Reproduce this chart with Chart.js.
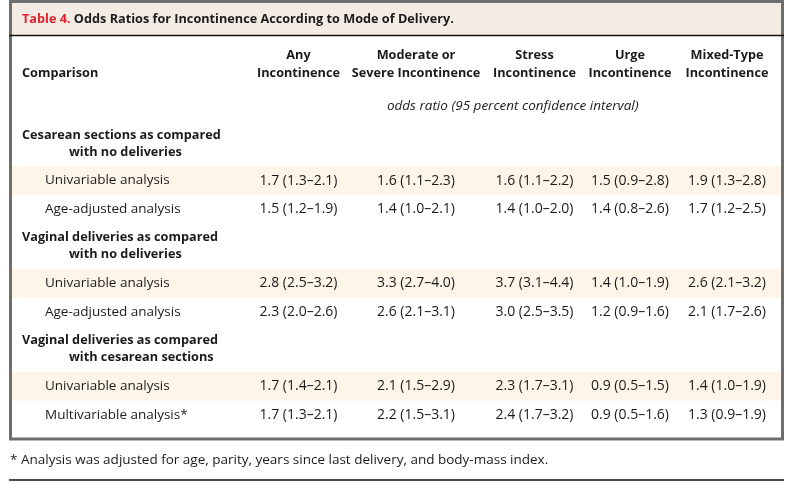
<!DOCTYPE html>
<html>
<head>
<meta charset="utf-8">
<script src="https://cdn.jsdelivr.net/npm/chart.js@4"></script>
<style>
  html, body { margin: 0; padding: 0; background: #fff; }
  #wrap { width: 791px; height: 484px; }
</style>
</head>
<body>
<div id="wrap"><canvas id="tbl" width="791" height="484"></canvas></div>
<script>
// --- table data ---
const tableNo   = 'Table 4.';
const tableName = 'Odds Ratios for Incontinence According to Mode of Delivery.';
const firstColHead = 'Comparison';
const columnHeads = [
    ['Any', 'Incontinence'],
    ['Moderate or', 'Severe Incontinence'],
    ['Stress', 'Incontinence'],
    ['Urge', 'Incontinence'],
    ['Mixed-Type', 'Incontinence']
];
const unitLabel = 'odds ratio (95 percent confidence interval)';
const groupTitles = [
    ['Cesarean sections as compared', 'with no deliveries'],
    ['Vaginal deliveries as compared', 'with no deliveries'],
    ['Vaginal deliveries as compared', 'with cesarean sections']
];
const analysisLabels = [
    'Univariable analysis', 'Age-adjusted analysis',
    'Univariable analysis', 'Age-adjusted analysis',
    'Univariable analysis', 'Multivariable analysis*'
];
// odds ratio, lower and upper limit per column
const anyOR   = [1.7, 1.5, 2.8, 2.3, 1.7, 1.7];
const anyLo   = [1.3, 1.2, 2.5, 2.0, 1.4, 1.3];
const anyHi   = [2.1, 1.9, 3.2, 2.6, 2.1, 2.1];
const modOR   = [1.6, 1.4, 3.3, 2.6, 2.1, 2.2];
const modLo   = [1.1, 1.0, 2.7, 2.1, 1.5, 1.5];
const modHi   = [2.3, 2.1, 4.0, 3.1, 2.9, 3.1];
const strOR   = [1.6, 1.4, 3.7, 3.0, 2.3, 2.4];
const strLo   = [1.1, 1.0, 3.1, 2.5, 1.7, 1.7];
const strHi   = [2.2, 2.0, 4.4, 3.5, 3.1, 3.2];
const urgOR   = [1.5, 1.4, 1.4, 1.2, 0.9, 0.9];
const urgLo   = [0.9, 0.8, 1.0, 0.9, 0.5, 0.5];
const urgHi   = [2.8, 2.6, 1.9, 1.6, 1.5, 1.6];
const mixOR   = [1.9, 1.7, 2.6, 2.1, 1.4, 1.3];
const mixLo   = [1.3, 1.2, 2.1, 1.7, 1.0, 0.9];
const mixHi   = [2.8, 2.5, 3.2, 2.6, 1.9, 1.9];
const footnote = '* Analysis was adjusted for age, parity, years since last delivery, and body-mass index.';

// --- layout (px) ---
const W = 791, H = 484;
const colCenters = [298.5, 416, 534.5, 630, 727];
const labelX = 22, analysisX = 45, indentX = 69;
const boxLeft = 12, boxRight = 781;
const FONT = '"Open Sans", "Noto Sans", sans-serif';
const INK = '#1b1b1b';

const columns = [
    [anyOR, anyLo, anyHi], [modOR, modLo, modHi], [strOR, strLo, strHi],
    [urgOR, urgLo, urgHi], [mixOR, mixLo, mixHi]
];

// rows: group headings run on two lines, analysis rows are taller
const rows = [];
let yPos = 135;
groupTitles.forEach((lines, g) => {
    lines.forEach((t, i) => {
        if (i > 0) yPos += 17;
        rows.push({ kind: 'group', text: t, indent: i > 0, y: yPos });
    });
    for (let k = 0; k < 2; k++) {
        yPos += 28.6;
        rows.push({ kind: 'data', idx: g * 2 + k, y: yPos, shaded: k === 0 });
    }
    yPos += 28.6;
});

const bands = rows.filter(r => r.shaded).map(r => ({ x: [boxLeft, boxRight], y: r.y }));

const fmt = (o, l, h) => `${o.toFixed(1)} (${l.toFixed(1)}\u2013${h.toFixed(1)})`;

const tablePlugin = {
    id: 'tableText',
    beforeDatasetsDraw(chart) {
        const { ctx, scales: { x, y } } = chart;
        ctx.save();
        // title band
        ctx.fillStyle = '#f3ece4';
        ctx.fillRect(x.getPixelForValue(boxLeft), y.getPixelForValue(3),
            x.getPixelForValue(boxRight) - x.getPixelForValue(boxLeft),
            y.getPixelForValue(35) - y.getPixelForValue(3));
        ctx.restore();
    },
    afterDatasetsDraw(chart) {
        const { ctx, scales: { x, y } } = chart;
        const px = v => x.getPixelForValue(v);
        const py = v => y.getPixelForValue(v);
        ctx.save();
        ctx.textBaseline = 'middle';

        // title
        ctx.font = `bold 12.7px ${FONT}`;
        ctx.textAlign = 'left';
        ctx.fillStyle = '#e2232e';
        ctx.fillText(tableNo, px(labelX), py(19.5));
        const w = ctx.measureText(tableNo + ' ').width;
        ctx.fillStyle = INK;
        ctx.fillText(tableName, px(labelX) + w, py(19.5));

        // column heads
        ctx.font = `bold 12.7px ${FONT}`;
        ctx.fillText(firstColHead, px(labelX), py(73));
        ctx.textAlign = 'center';
        columnHeads.forEach((lines, c) => {
            lines.forEach((t, i) => ctx.fillText(t, px(colCenters[c]), py(55 + i * 18)));
        });
        ctx.font = `italic 13.5px ${FONT}`;
        ctx.fillText(unitLabel, px((colCenters[0] + colCenters[4]) / 2), py(106));

        // body
        rows.forEach(r => {
            if (r.kind === 'group') {
                ctx.font = `bold 12.7px ${FONT}`;
                ctx.textAlign = 'left';
                ctx.fillText(r.text, px(r.indent ? indentX : labelX), py(r.y));
            } else {
                ctx.font = `13.5px ${FONT}`;
                ctx.textAlign = 'left';
                ctx.fillText(analysisLabels[r.idx], px(analysisX), py(r.y));
                ctx.font = `14px ${FONT}`;
                ctx.textAlign = 'center';
                columns.forEach(([o, l, h], c) => {
                    ctx.fillText(fmt(o[r.idx], l[r.idx], h[r.idx]), px(colCenters[c]), py(r.y));
                });
            }
        });

        // footnote
        ctx.font = `13.5px ${FONT}`;
        ctx.textAlign = 'left';
        ctx.fillText(footnote, px(10), py(460));

        // frame and rules
        ctx.strokeStyle = '#6e6e6e';
        ctx.lineWidth = 3;
        ctx.strokeRect(px(10.5), py(1.5), px(782.5) - px(10.5), py(439) - py(1.5));
        ctx.strokeStyle = '#111';
        ctx.lineWidth = 1.5;
        ctx.beginPath();
        ctx.moveTo(px(9), py(35.5)); ctx.lineTo(px(784), py(35.5));
        ctx.moveTo(px(9), py(480)); ctx.lineTo(px(784), py(480));
        ctx.stroke();
        ctx.restore();
    }
};

new Chart(document.getElementById('tbl'), {
    type: 'bar',
    data: {
        datasets: [{
            data: bands,
            backgroundColor: '#fdf5e8',
            borderWidth: 0,
            barThickness: 28
        }]
    },
    options: {
        indexAxis: 'y',
        responsive: false,
        animation: false,
        layout: { padding: 0 },
        plugins: { legend: { display: false }, tooltip: { enabled: false } },
        scales: {
            x: { type: 'linear', min: 0, max: W, display: false, offset: false },
            y: { type: 'linear', min: 0, max: H, reverse: true, display: false, offset: false }
        }
    },
    plugins: [tablePlugin]
});
</script>
</body>
</html>
